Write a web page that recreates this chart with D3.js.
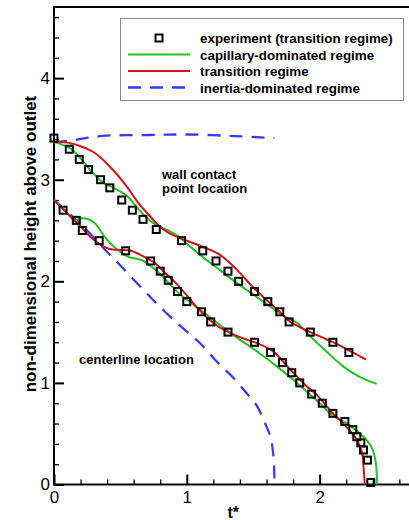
<!DOCTYPE html>
<html>
<head>
<meta charset="utf-8">
<script src="https://cdn.jsdelivr.net/npm/d3@7"></script>
<style>
  html, body { margin: 0; padding: 0; background: #ffffff; }
  svg { display: block; font-family: "Liberation Sans", Arial, Helvetica, sans-serif; }
</style>
</head>
<body>
<svg id="chart" width="409" height="520"></svg>
<script>
// Experimental points (transition regime): [t*, height]
const expWall = [
  [0, 3.41], [0.115, 3.30], [0.19, 3.20], [0.26, 3.10], [0.35, 3.00], [0.42, 2.92],
  [0.51, 2.80], [0.59, 2.70], [0.67, 2.61], [0.77, 2.51], [0.96, 2.40], [1.12, 2.30],
  [1.22, 2.20], [1.31, 2.10], [1.39, 2.00], [1.51, 1.90], [1.61, 1.80], [1.70, 1.70],
  [1.77, 1.60], [1.93, 1.50], [2.10, 1.40], [2.22, 1.30]
];
const expCenter = [
  [0.068, 2.70], [0.168, 2.60], [0.213, 2.50], [0.34, 2.40], [0.54, 2.30], [0.728, 2.20],
  [0.80, 2.10], [0.86, 2.01], [0.93, 1.90], [1.00, 1.80], [1.11, 1.70], [1.18, 1.60],
  [1.31, 1.50], [1.51, 1.40], [1.63, 1.30], [1.72, 1.20], [1.79, 1.10], [1.85, 1.00],
  [1.94, 0.89], [2.02, 0.80], [2.10, 0.70], [2.19, 0.62], [2.25, 0.54], [2.28, 0.47],
  [2.31, 0.41], [2.33, 0.34], [2.36, 0.24], [2.385, 0.02]
];

// Simulated curves, wall contact point
const capWall = [
  [0, 3.37], [0.12, 3.31], [0.2, 3.21], [0.27, 3.10], [0.37, 2.97], [0.45, 2.92],
  [0.55, 2.84], [0.65, 2.69], [0.75, 2.57], [0.86, 2.50], [0.93, 2.45], [1.0, 2.37],
  [1.12, 2.24], [1.25, 2.11], [1.38, 1.98], [1.50, 1.87], [1.63, 1.75], [1.73, 1.66],
  [1.83, 1.59], [1.93, 1.46], [2.05, 1.31], [2.18, 1.16], [2.30, 1.06], [2.43, 0.99]
];
const transWall = [
  [0, 3.37], [0.1, 3.365], [0.2, 3.33], [0.3, 3.27], [0.42, 3.13], [0.55, 2.93],
  [0.63, 2.78], [0.71, 2.66], [0.78, 2.56], [0.86, 2.48], [0.96, 2.42], [1.12, 2.34],
  [1.25, 2.26], [1.38, 2.11], [1.50, 1.94], [1.63, 1.78], [1.70, 1.70], [1.77, 1.61],
  [1.85, 1.55], [1.93, 1.50], [2.05, 1.43], [2.15, 1.37], [2.25, 1.30], [2.35, 1.23]
];
const inertiaWall = [
  [0, 3.37], [0.15, 3.39], [0.35, 3.43], [0.72, 3.44], [1.0, 3.445], [1.35, 3.43], [1.66, 3.41]
];

// Simulated curves, centerline
const capCenter = [
  [0, 2.80], [0.08, 2.70], [0.155, 2.60], [0.2, 2.62], [0.25, 2.615], [0.31, 2.57],
  [0.38, 2.44], [0.46, 2.33], [0.56, 2.24], [0.66, 2.21], [0.74, 2.14], [0.81, 2.06],
  [0.88, 1.96], [0.97, 1.85], [1.10, 1.72], [1.23, 1.59], [1.35, 1.47], [1.55, 1.29],
  [1.68, 1.16], [1.83, 1.00], [2.00, 0.80], [2.10, 0.68], [2.23, 0.58], [2.33, 0.47],
  [2.39, 0.37], [2.42, 0.24], [2.43, 0.10], [2.43, 0]
];
const transCenter = [
  [0, 2.80], [0.1, 2.67], [0.2, 2.54], [0.28, 2.43], [0.34, 2.37], [0.41, 2.32],
  [0.48, 2.31], [0.58, 2.30], [0.68, 2.24], [0.76, 2.18], [0.83, 2.09], [0.92, 1.98],
  [1.02, 1.83], [1.10, 1.71], [1.23, 1.56], [1.38, 1.46], [1.53, 1.39], [1.65, 1.31],
  [1.78, 1.13], [1.90, 0.97], [1.98, 0.88], [2.10, 0.70], [2.20, 0.57], [2.28, 0.44],
  [2.32, 0.31], [2.33, 0.18], [2.34, 0]
];
const inertiaCenter = [
  [0, 2.80], [0.22, 2.54], [0.37, 2.33], [0.46, 2.21], [0.67, 1.92], [0.82, 1.72],
  [0.97, 1.54], [1.10, 1.39], [1.225, 1.21], [1.35, 1.05], [1.45, 0.90], [1.53, 0.77],
  [1.59, 0.60], [1.63, 0.47], [1.65, 0.31], [1.66, 0.06]
];

// Axis ticks and legend
const xMajor = [0, 1, 2];
const yMajor = [0, 1, 2, 3, 4];
const xMinor = [0.2, 0.4, 0.6, 0.8, 1.2, 1.4, 1.6, 1.8, 2.2, 2.4, 2.6];
const yMinor = [0.2, 0.4, 0.6, 0.8, 1.2, 1.4, 1.6, 1.8, 2.2, 2.4, 2.6, 2.8,
                3.2, 3.4, 3.6, 3.8, 4.2, 4.4, 4.6];
const legendLabels = [
  "experiment (transition regime)",
  "capillary-dominated regime",
  "transition regime",
  "inertia-dominated regime"
];

const GREEN = "#1fc41f", RED = "#d41414", BLUE = "#3a3aff";

const svg = d3.select("#chart");
const m = { left: 54, top: 7 };
const plotW = 358.6, plotH = 477.5;

const x = d3.scaleLinear().domain([0, 2.7]).range([m.left, m.left + plotW]);
const y = d3.scaleLinear().domain([0, 4.7]).range([m.top + plotH, m.top]);

// Frame
svg.append("rect")
  .attr("x", x(0)).attr("y", y(4.7))
  .attr("width", x(2.7) - x(0)).attr("height", y(0) - y(4.7))
  .attr("fill", "none").attr("stroke", "#000").attr("stroke-width", 2);

// Axes with inward ticks
function styleAxis(g) {
  g.select(".domain").remove();
  g.selectAll(".tick line").attr("stroke", "#000").attr("stroke-width", 1.3);
}
svg.append("g").attr("transform", `translate(0,${y(0)})`)
  .call(d3.axisBottom(x).tickValues(xMinor).tickSize(-5).tickFormat(""))
  .call(styleAxis);
svg.append("g").attr("transform", `translate(0,${y(0)})`)
  .call(d3.axisBottom(x).tickValues(xMajor).tickSize(-10).tickPadding(6).tickFormat(d3.format("d")))
  .call(styleAxis)
  .call(g => g.selectAll(".tick line").attr("stroke-width", 2))
  .call(g => g.selectAll("text").attr("font-size", 17).attr("fill", "#000")
    .attr("font-family", "Liberation Sans, Arial, sans-serif"));
svg.append("g").attr("transform", `translate(${x(0)},0)`)
  .call(d3.axisLeft(y).tickValues(yMinor).tickSize(-5).tickFormat(""))
  .call(styleAxis);
svg.append("g").attr("transform", `translate(${x(0)},0)`)
  .call(d3.axisLeft(y).tickValues(yMajor).tickSize(-10).tickPadding(4).tickFormat(d3.format("d")))
  .call(styleAxis)
  .call(g => g.selectAll(".tick line").attr("stroke-width", 2))
  .call(g => g.selectAll("text").attr("font-size", 17).attr("fill", "#000")
    .attr("font-family", "Liberation Sans, Arial, sans-serif"));

// Axis titles
svg.append("text")
  .attr("x", x(1.35)).attr("y", 518)
  .attr("text-anchor", "middle").attr("font-size", 16).attr("font-weight", "bold")
  .text("t*");
svg.append("text")
  .attr("transform", "translate(36,244) rotate(-90)")
  .attr("text-anchor", "middle").attr("font-size", 17).attr("font-weight", "bold")
  .text("non-dimensional height above outlet");

// Curves
const line = d3.line().x(d => x(d[0])).y(d => y(d[1])).curve(d3.curveCatmullRom.alpha(0.5));
const curves = [
  { data: inertiaWall, color: BLUE, dash: "13,9" },
  { data: inertiaCenter, color: BLUE, dash: "13,9" },
  { data: capWall, color: GREEN },
  { data: capCenter, color: GREEN },
  { data: transWall, color: RED },
  { data: transCenter, color: RED }
];
svg.append("g").selectAll("path").data(curves).join("path")
  .attr("d", d => line(d.data))
  .attr("fill", "none")
  .attr("stroke", d => d.color)
  .attr("stroke-width", d => d.dash ? 2.3 : 2)
  .attr("stroke-dasharray", d => d.dash || null);

// Experimental markers
const sq = 7;
svg.append("g").selectAll("rect").data(expWall.concat(expCenter)).join("rect")
  .attr("x", d => x(d[0]) - sq / 2).attr("y", d => y(d[1]) - sq / 2)
  .attr("width", sq).attr("height", sq)
  .attr("fill", "none").attr("stroke", "#000").attr("stroke-width", 2);

// Annotations
svg.append("text").attr("x", 162).attr("y", 179)
  .attr("font-size", 13).attr("font-weight", "bold").text("wall contact");
svg.append("text").attr("x", 162).attr("y", 193)
  .attr("font-size", 13).attr("font-weight", "bold").text("point location");
svg.append("text").attr("x", 79).attr("y", 364)
  .attr("font-size", 13).attr("font-weight", "bold").text("centerline location");

// Legend
const lg = svg.append("g");
lg.append("rect").attr("x", 120.5).attr("y", 18.5).attr("width", 283).attr("height", 82)
  .attr("fill", "#fff").attr("stroke", "#8a8a8a").attr("stroke-width", 1);
const rowY = [38, 54.5, 71, 87.5];
lg.append("rect").attr("x", 159 - sq / 2).attr("y", rowY[0] - sq / 2)
  .attr("width", sq).attr("height", sq)
  .attr("fill", "none").attr("stroke", "#000").attr("stroke-width", 2);
const legLines = [
  { color: GREEN, row: 1 },
  { color: RED, row: 2 },
  { color: BLUE, row: 3, dash: "13,9" }
];
lg.selectAll("line").data(legLines).join("line")
  .attr("x1", 128).attr("x2", 190)
  .attr("y1", d => rowY[d.row]).attr("y2", d => rowY[d.row])
  .attr("stroke", d => d.color)
  .attr("stroke-width", d => d.dash ? 2.3 : 2)
  .attr("stroke-dasharray", d => d.dash || null);
lg.selectAll("text").data(legendLabels).join("text")
  .attr("x", 200).attr("y", (d, i) => rowY[i] + 5)
  .attr("font-size", 13.4).attr("font-weight", "bold")
  .text(d => d);
</script>
</body>
</html>
